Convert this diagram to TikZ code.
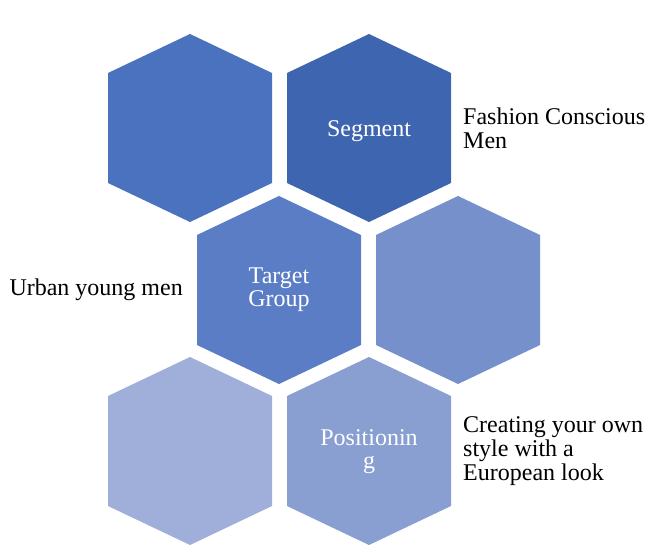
\documentclass[tikz,border=0pt]{standalone}
\usepackage{fontspec}
\setmainfont{Liberation Serif}
\usetikzlibrary{positioning}

\definecolor{hexA}{RGB}{74,114,190}
\definecolor{hexB}{RGB}{62,101,175}
\definecolor{hexC}{RGB}{90,125,197}
\definecolor{hexD}{RGB}{117,144,202}
\definecolor{hexE}{RGB}{160,175,217}
\definecolor{hexF}{RGB}{137,159,209}

\tikzset{
  hexlbl/.style={text=white, font=\fontsize{24}{23}\selectfont, align=center, inner sep=0pt},
  sidelbl/.style={text=black, font=\fontsize{24}{24}\selectfont, align=left, inner sep=0pt}
}

\begin{document}
\begin{tikzpicture}[x=1pt, y=-1pt]
\useasboundingbox (0,0) rectangle (660,553);
% honeycomb tiles
\foreach \name/\cx/\cy/\col in {hexa/190/128/hexA, hexb/369/128/hexB, hexc/279/290/hexC, hexd/458/290/hexD, hexe/190/451/hexE, hexf/369/451/hexF}
{
  \fill[\col] (\cx,\cy-94) -- (\cx+82,\cy-55) -- (\cx+82,\cy+55) -- (\cx,\cy+94) -- (\cx-82,\cy+55) -- (\cx-82,\cy-55) -- cycle;
  \coordinate (\name) at (\cx,\cy);
}
% labels in the tiles
\node[hexlbl, yshift=-3pt] (seg) at (hexb) {Segment};
\node[hexlbl] (tgt) at (hexc) {Target\\Group};
\node[hexlbl, yshift=-1pt] (pos) at (hexf) {Positionin\\g};
% side texts
\node[sidelbl, right=94pt of hexb] (segtxt) {Fashion Conscious\\Men};
\node[sidelbl, left=96pt of hexc] (tgttxt) {Urban young men};
\node[sidelbl, right=94pt of hexf] (postxt) {Creating your own\\style with a\\European look};
\end{tikzpicture}
\end{document}
